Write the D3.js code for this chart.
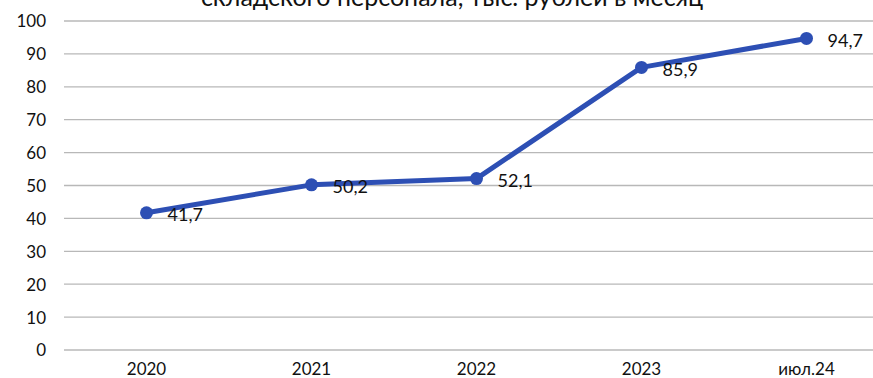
<!DOCTYPE html>
<html><head><meta charset="utf-8">
<script src="https://cdn.jsdelivr.net/npm/d3@7"></script>
<style>html,body{margin:0;padding:0;background:#fff;overflow:hidden}</style>
</head><body>
<svg id="c" width="873" height="378"></svg>
<script>
const categories = ["2020", "2021", "2022", "2023", "июл.24"];
const values = [41.7, 50.2, 52.1, 85.9, 94.7];
const yTicks = [0, 10, 20, 30, 40, 50, 60, 70, 80, 90, 100];
const title = "складского персонала, тыс. рублей в месяц";

const font = "Lato, 'Open Sans', sans-serif";
const svg = d3.select("#c");
const x = d3.scaleBand().domain(categories).range([64, 889]);
const y = d3.scaleLinear().domain([0, 100]).range([350, 21]);

// gridlines
svg.append("g").selectAll("line").data(yTicks).join("line")
  .attr("x1", 64).attr("x2", 873)
  .attr("y1", d => y(d)).attr("y2", d => y(d))
  .attr("stroke", "#b8b8b8").attr("stroke-width", 1.3);

// y axis labels
const yAxis = d3.axisLeft(y).tickValues(yTicks).tickSize(0).tickPadding(0);
const gy = svg.append("g").attr("transform", "translate(46,0)").call(yAxis);
gy.select(".domain").remove();
gy.selectAll("text").attr("font-family", font).attr("font-size", 17).attr("fill", "#111").attr("dy", "0.35em");

// x axis labels
const xAxis = d3.axisBottom(x).tickSize(0).tickPadding(0);
const gx = svg.append("g").attr("transform", "translate(0,362)").call(xAxis);
gx.select(".domain").remove();
gx.selectAll("text").attr("font-family", font).attr("font-size", 17).attr("fill", "#111").attr("dy", "0.75em");

// title (partly outside the top edge, as in the source image)
svg.append("text").attr("x", 452).attr("y", 6).attr("text-anchor", "middle")
  .attr("font-family", font).attr("font-size", 25).attr("fill", "#111").text(title);

const cx = d => x(d.c) + x.bandwidth() / 2;
const data = categories.map((c, i) => ({c, v: values[i]}));

svg.append("path").datum(data)
  .attr("d", d3.line().x(cx).y(d => y(d.v)))
  .attr("fill", "none").attr("stroke", "#2D4FB4").attr("stroke-width", 5)
  .attr("stroke-linejoin", "round");

svg.append("g").selectAll("circle").data(data).join("circle")
  .attr("cx", cx).attr("cy", d => y(d.v)).attr("r", 6.5).attr("fill", "#2D4FB4");

svg.append("g").selectAll("text").data(data).join("text")
  .attr("x", d => cx(d) + 21).attr("y", d => y(d.v) + 2).attr("dy", "0.35em")
  .attr("font-family", font).attr("font-size", 18).attr("fill", "#111")
  .text(d => d3.format(".1f")(d.v).replace(".", ","));
</script>
</body></html>
